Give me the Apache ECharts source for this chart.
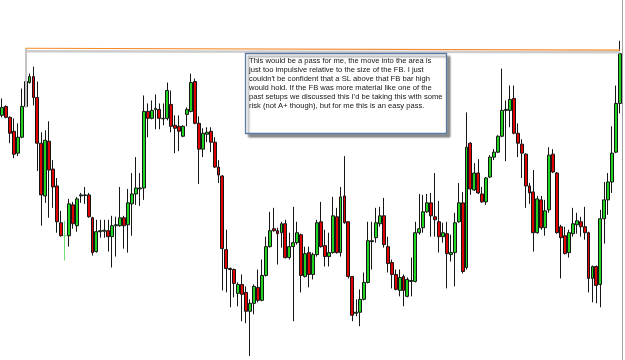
<!DOCTYPE html>
<html><head><meta charset="utf-8">
<script src="https://cdn.jsdelivr.net/npm/echarts@6/dist/echarts.min.js"></script>
<style>html,body{margin:0;padding:0;background:#fff}#c{width:625px;height:360px}</style>
</head><body><div id="c"></div>
<script>
// price values (points)
const opens = [245,254,243,229,207,223,254,278,284,263, 217,164,219,191,174,137,124,124,155,134,
 164,164.5,165,142,108,128,128.5,129,123,134, 134,142,135,156,166,171,172,249,242,251,
 251,241.5,242,256,235,234,224,246,249,279, 237,211,226,229,218,193,184,110,91,90,
 66,75,67,48,56,72,59,84,113,131, 129,127,136,102,113,117,125,83,107,85,
 105,138,114,103,107,143,107,164,138,83, 46,47,60,77,118,122,136,144,113,97,
 85,69,83,63,78,78,127,132,148,157, 143,138,123,126,105,107,138,157,92,217,
 170,187,166,158,183,203,208,224,250,250, 262,227,216,206,174,168,127,160,132,150,
 206,187,133,124,107,126,135,138,133,127, 81,93,75,141,160,178,208,257];
const closes = [253,243,227,206,223,254,279,284,263,217, 165,220,190,173,138,124,124,156,136,161,
 165,165,143,107,128,129,129.5,123,134,135, 142,134,157,166,172,172,249,242,250,252,
 242,242,270,234,232,229,234,251,278,237, 211,227,228,218,193,185,111,91,90,76,
 75,65,48,56,73,59,84,113,129,129, 126,136,102,113,117,127,84,106,85,105,
 137,113,103,107,144,107,163,137,83,44, 47,60,77,119,119,137,144,115,96,85,
 70,82,69,80,79,127,131,148,157,144, 140,123,127,106,107,137,157,88,213,171,
 187,167,158,182,203,208,224,250,251,261, 227,217,207,174,167,127,161,132,149,205,
 188,127,122,106,127,136,139,133,127,81, 93,74,141,160,178,207,257,307];
const lows = [243,242,217,202,204,222,253,277,255,189, 134,157,142,152,127,123,99,113,131,128,
 157,156,142,104,107,122,122,108,92,103, 133,111,107,124,155,154,160,223,241,231,
 231,235,240,228,207,209,223,234,248,236, 176,203,218,208,192,177,69,67,52,62,
 53,38,36,3,45,57,58,83,112,128, 95,112,101,100,38,115,67,82,72,80,
 103,112,93,93,106,106,103,136,81,38, 43,33,59,76,90,117,133,112,87,71,
 69,63,53,62,63,77,125,127,147,123, 123,107,117,71,98,73,137,86,90,165,
 169,166,157,155,182,200,207,223,199,233, 226,203,182,152,156,108,126,130,124,147,
 187,126,81,105,102,123,126,123,120,67, 57,56,52,116,145,167,207,247];
const highs = [262,255,244,242,237,272,283,287,294,279, 228,230,239,200,182,149,139,161,158,163,
 167,173,167,143,140,140,140,140,144,143, 173,144,171,187,203,187,265,257,260,266,
 257,257,278,270,245,245,235,253,287,282, 244,232,233,233,223,200,185,130,92,91,
 77,85,73,60,75,90,100,123,148,152, 132,138,140,127,153,138,126,113,113,107,
 140,158,130,127,163,152,173,204,138,83, 60,70,87,138,138,152,153,162,123,100,
 90,90,85,82,102,138,166,165,166,167, 187,159,137,138,125,147,177,168,248,218,
 197,201,173,183,205,211,225,292,260,275, 275,237,221,207,177,190,164,164,160,213,
 211,188,135,133,130,152,147,143,153,128, 94,94,150,178,187,234,275,320];
const dojiBars = [16];           // bars drawn as a light-green cross
const fbBar = 6, lastBar = 157;   // false-break bar and last bar
const levelStart = 312.5, levelEnd = 310.5;  // FB high level line
const shadowStart = 309.5, shadowEnd = 308.5;
const fbBarBodyLow = 253;
const noteLines = [
 "This would be a pass for me, the move into the area is",
 "just too impulsive relative to the size of the FB. I just",
 "couldn't be confident that a SL above that FB bar high",
 "would hold. If the FB was more material like one of the",
 "past setups we discussed this I'd be taking this with some",
 "risk (not A+ though), but for me this is an easy pass."
];

const categories = opens.map((_, i) => String(i + 1));
const candleData = opens.map((o, i) => {
  const item = { value: [o, closes[i], lows[i], highs[i]] };
  if (dojiBars.includes(i)) item.itemStyle = { borderColor: '#6fdc6f', borderColor0: '#6fdc6f', color: '#6fdc6f', color0: '#6fdc6f' };
  return item;
});

const chart = echarts.init(document.getElementById('c'), null, { renderer: 'canvas' });
chart.setOption({
  animation: false,
  backgroundColor: '#ffffff',
  grid: { left: -1.3, right: 3, top: -1, bottom: -1, show: false },
  xAxis: { type: 'category', data: categories, show: false, boundaryGap: true },
  yAxis: [
    { type: 'value', min: -1, max: 361, show: false },
    { type: 'value', min: -1, max: 361, position: 'right', show: true,
      axisLine: { show: true, lineStyle: { color: '#a4a4a4', width: 1 } },
      axisTick: { show: false }, axisLabel: { show: false }, splitLine: { show: false } }
  ],
  series: [
    {
      type: 'line', data: [], z: 1, silent: true,
      markLine: {
        silent: true, symbol: ['none', 'none'], label: { show: false }, animation: false,
        data: [
          [{ coord: [fbBar, shadowStart], lineStyle: { color: '#cdcdcd', width: 2.5, type: 'solid' } }, { coord: [lastBar, shadowEnd] }],
          [{ coord: [fbBar, levelStart], lineStyle: { color: '#c4c4c4', width: 2, type: 'solid' } }, { coord: [fbBar, fbBarBodyLow] }],
          [{ coord: [fbBar, levelStart], lineStyle: { color: '#f7892a', width: 1.2, type: 'solid' } }, { coord: [lastBar, levelEnd] }]
        ]
      }
    },
    {
      type: 'candlestick', data: candleData, z: 2, barWidth: 3.4,
      itemStyle: { color: '#1fd41f', color0: '#e00000', borderColor: '#161616', borderColor0: '#161616', borderWidth: 1 }
    }
  ],
  graphic: [
    { type: 'rect', z: 100, shape: { x: 245.5, y: 53.5, width: 201, height: 80 },
      style: { fill: '#ffffff', stroke: '#5a7aa6', lineWidth: 1.3, shadowBlur: 2, shadowOffsetX: 3, shadowOffsetY: 3, shadowColor: 'rgba(0,0,0,0.4)' } },
    { type: 'text', z: 101, left: 249, top: 56.5,
      style: { text: noteLines.join('\n'), fontSize: 7.6, fontFamily: '"Liberation Sans", Arial, sans-serif', lineHeight: 8.9, fill: '#151515' } }
  ]
});
</script></body></html>
